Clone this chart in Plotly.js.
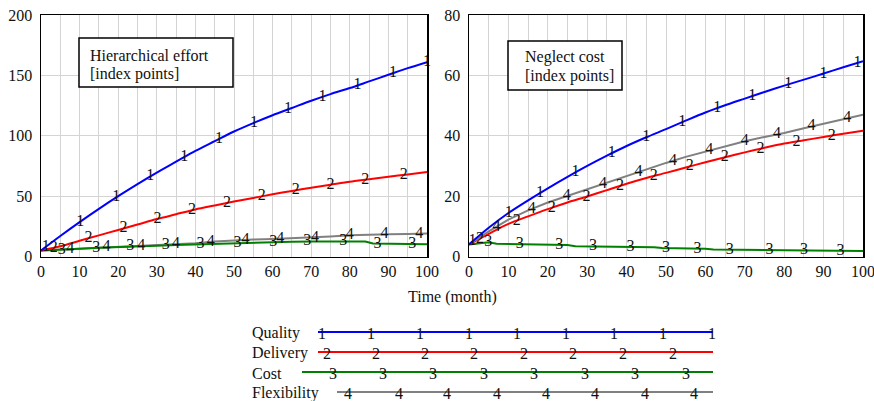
<!DOCTYPE html>
<html>
<head>
<meta charset="utf-8">
<script src="https://cdn.plot.ly/plotly-3.0.1.min.js"></script>
<style>html,body{margin:0;padding:0;background:#fff;}#chart{width:874px;height:401px;}</style>
</head>
<body>
<div id="chart"></div>
<script>
// ---------- data ----------
const seriesNames = ["Quality", "Delivery", "Cost", "Flexibility"];
const seriesDigits = ["1", "2", "3", "4"];
const seriesColors = ["#0000ff", "#ff0000", "#008000", "#808080"];

const time = [0,5,10,15,20,25,30,35,40,45,50,55,60,65,70,75,80,85,90,95,100];

// Left panel: Hierarchical effort [index points]
const effortQuality  = [5,17,28.5,39.5,50,60,69.5,78.5,87.5,95.5,103.5,110.5,117,123,129,134.5,139.5,145,150.5,156,161];
const effortDelivery = [5,8.5,13,17.5,22,26.5,31,35,39,42.3,45.5,48.5,51.5,54.3,57,59.5,62,64,66,68,70];
const effortCostTime = [0,5,10,15,20,25,30,35,40,45,50,55,60,65,70,75,80,84,86,90,95,100];
const effortCost     = [5,5.5,6.5,7.2,8,8.5,9,9.5,10,10.8,11.3,11.7,12,12.2,12.5,12.5,12.5,12.4,10.8,10.5,10.3,10.2];
const effortFlexibility = [5,5.5,6.5,7.2,8,8.5,9.2,10,11,12.5,13.5,14,14.5,15,15.5,16.5,17.5,18.3,18.5,18.7,19];

// Right panel: Neglect cost [index points]
const neglectQuality  = [4,9.5,14.4,18.6,22.6,26.4,30,33.4,36.6,39.5,42.2,45,47.7,50.1,52.3,54.5,56.6,58.6,60.6,62.7,64.7];
const neglectDelivery = [4,7.5,10.8,13.3,15.7,17.9,19.9,22,24.1,26,27.7,29.5,31.2,32.9,34.5,36,37.4,38.5,39.6,40.7,41.7];
const neglectCostTime = [0,5,7,15,17,25,27,35,37,47,49,60,62,80,90,100];
const neglectCost     = [4,4.7,4.2,4.0,3.8,3.8,3.4,3.4,3.2,3.1,2.8,2.6,2.3,2.1,1.9,1.8];
const neglectFlexibility = [4,8.3,12.2,15.3,17.9,20.1,22.1,24.3,26.5,28.8,31,33,34.8,36.5,38.2,39.6,40.9,42.5,44,45.5,47];

// positions (months) of the numbered line labels
const effortLabelTimes = [
  [1.2,10.2,19.5,28.3,37.1,46.1,55.2,64,72.9,82,91.2,100],
  [3.3,12.3,21.4,30.2,39.1,48.2,57.2,66,75,84,94],
  [5.4,14.3,23.1,32.3,41.3,50.9,60.2,69,78.3,87.2,96.2],
  [7.6,17,26,35,44,53,62,71,80,89,98]
];
const neglectLabelTimes = [
  [0.9,10.1,18,27,36.2,45,54.1,63,71.9,81,90,98.6],
  [2.8,12.1,21,29.8,38.3,46.9,56,64.9,74,83.1,92.1],
  [4.9,12.9,22.9,31.5,41,50,58,66.2,76.3,85,94.3],
  [7,15.9,24.8,34,43,51.8,61,70,78.2,86.9,96]
];

const effortTitle = ["Hierarchical effort", "[index points]"];
const neglectTitle = ["Neglect cost", "[index points]"];
const xTitle = "Time (month)";

// ---------- helpers ----------
function interp(xs, ys, x) {
  if (x <= xs[0]) return ys[0];
  for (let i = 1; i < xs.length; i++) {
    if (x <= xs[i]) {
      const t = (x - xs[i-1]) / (xs[i] - xs[i-1]);
      return ys[i-1] + t * (ys[i] - ys[i-1]);
    }
  }
  return ys[ys.length - 1];
}

const FONT = "Liberation Serif";
const W = 874, H = 401;
const px = x => x / W;
const py = y => 1 - y / H;

const effortSeries = [
  [time, effortQuality], [time, effortDelivery], [effortCostTime, effortCost], [time, effortFlexibility]
];
const neglectSeries = [
  [time, neglectQuality], [time, neglectDelivery], [neglectCostTime, neglectCost], [time, neglectFlexibility]
];
const smoothSeries = [true, true, false, false];

const traces = [];
function addPanel(series, labelTimes, xa, ya, order) {
  order.forEach(i => {
    const [xs, ys] = series[i];
    traces.push({
      x: xs, y: ys, type: "scatter", mode: "lines", xaxis: xa, yaxis: ya,
      line: {color: seriesColors[i], width: 2, shape: smoothSeries[i] ? "spline" : "linear", smoothing: 0.8},
      showlegend: false, hoverinfo: "skip"
    });
  });
  order.forEach(i => {
    const [xs, ys] = series[i];
    const lx = labelTimes[i];
    traces.push({
      x: lx, y: lx.map(t => interp(xs, ys, t)), type: "scatter", mode: "text", xaxis: xa, yaxis: ya,
      text: lx.map(() => seriesDigits[i]), textposition: "middle center",
      textfont: {family: FONT, size: 16, color: "#111"}, cliponaxis: false,
      showlegend: false, hoverinfo: "skip"
    });
  });
}
addPanel(effortSeries, effortLabelTimes, "x", "y", [3, 2, 1, 0]);
addPanel(neglectSeries, neglectLabelTimes, "x2", "y2", [2, 1, 3, 0]);

// ---------- layout ----------
const gridColor = "#d4d4d4";
function xAxis(domain, anchor) {
  return {
    domain: domain, anchor: anchor, range: [0, 100], tickmode: "linear", tick0: 0, dtick: 10,
    showgrid: true, gridcolor: gridColor, gridwidth: 1,
    minor: {dtick: 5, showgrid: true, gridcolor: gridColor, gridwidth: 1},
    showline: true, mirror: true, linecolor: "#000", linewidth: 1.5,
    ticks: "", ticklabelstandoff: 0, ticklabeloverflow: "allow", zeroline: false,
    tickfont: {family: FONT, size: 16, color: "#111"}
  };
}
function yAxis(domain, anchor, range, dtick) {
  return {
    domain: domain, anchor: anchor, range: range, tickmode: "linear", tick0: 0, dtick: dtick,
    showgrid: true, gridcolor: gridColor, gridwidth: 1,
    showline: true, mirror: true, linecolor: "#000", linewidth: 1.5,
    ticks: "", ticklabelstandoff: 4, ticklabeloverflow: "allow", zeroline: false,
    tickfont: {family: FONT, size: 16, color: "#111"}
  };
}

const yDom = [py(256.5), py(15)];
const layout = {
  width: W, height: H, margin: {l: 0, r: 0, t: 0, b: 0},
  paper_bgcolor: "#fff", plot_bgcolor: "#fff", showlegend: false,
  xaxis: xAxis([px(41), px(427)], "y"),
  yaxis: yAxis(yDom, "x", [0, 200], 50),
  xaxis2: xAxis([px(469), px(863)], "y2"),
  yaxis2: yAxis(yDom, "x2", [0, 80], 20),
  shapes: [], annotations: []
};

// title boxes inside the panels
layout.shapes.push({type: "rect", xref: "paper", yref: "paper",
  x0: px(79), x1: px(233), y0: py(38), y1: py(87), line: {color: "#000", width: 1.5}, fillcolor: "#fff", layer: "above"});
layout.shapes.push({type: "rect", xref: "paper", yref: "paper",
  x0: px(508), x1: px(622), y0: py(41), y1: py(90), line: {color: "#000", width: 1.5}, fillcolor: "#fff", layer: "above"});
[[effortTitle, 88, [56, 74]], [neglectTitle, 523, [57, 76]]].forEach(([lines, x, ys]) => {
  lines.forEach((t, k) => layout.annotations.push({
    text: t, xref: "paper", yref: "paper", x: px(x), y: py(ys[k]), xanchor: "left", yanchor: "middle",
    showarrow: false, font: {family: FONT, size: 16, color: "#111"}
  }));
});

// x-axis title
layout.annotations.push({text: xTitle, xref: "paper", yref: "paper", x: px(452), y: py(297),
  xanchor: "center", yanchor: "middle", showarrow: false, font: {family: FONT, size: 16, color: "#111"}});

// custom legend
const legendRows = [
  {y: 332, x0: 318, digits: [322,371,420,469,517,566,614,663,712]},
  {y: 352, x0: 318, digits: [327,376,425,474,524,573,623,673]},
  {y: 372, x0: 302, digits: [333,383,433,484,534,585,635,686]},
  {y: 392, x0: 337, digits: [348,399,447,497,546,595,645,694]}
];
legendRows.forEach((r, i) => {
  layout.shapes.push({type: "line", xref: "paper", yref: "paper",
    x0: px(r.x0), x1: px(713), y0: py(r.y), y1: py(r.y), line: {color: seriesColors[i], width: 2}});
  layout.annotations.push({text: seriesNames[i], xref: "paper", yref: "paper", x: px(250), y: py(r.y + 1),
    xanchor: "left", yanchor: "middle", showarrow: false, font: {family: FONT, size: 16, color: "#111"}});
  r.digits.forEach(d => layout.annotations.push({text: seriesDigits[i], xref: "paper", yref: "paper",
    x: px(d), y: py(r.y + 1), xanchor: "center", yanchor: "middle", showarrow: false,
    font: {family: FONT, size: 16, color: "#111"}}));
});

Plotly.newPlot("chart", traces, layout, {staticPlot: true, displayModeBar: false});
</script>
</body>
</html>
